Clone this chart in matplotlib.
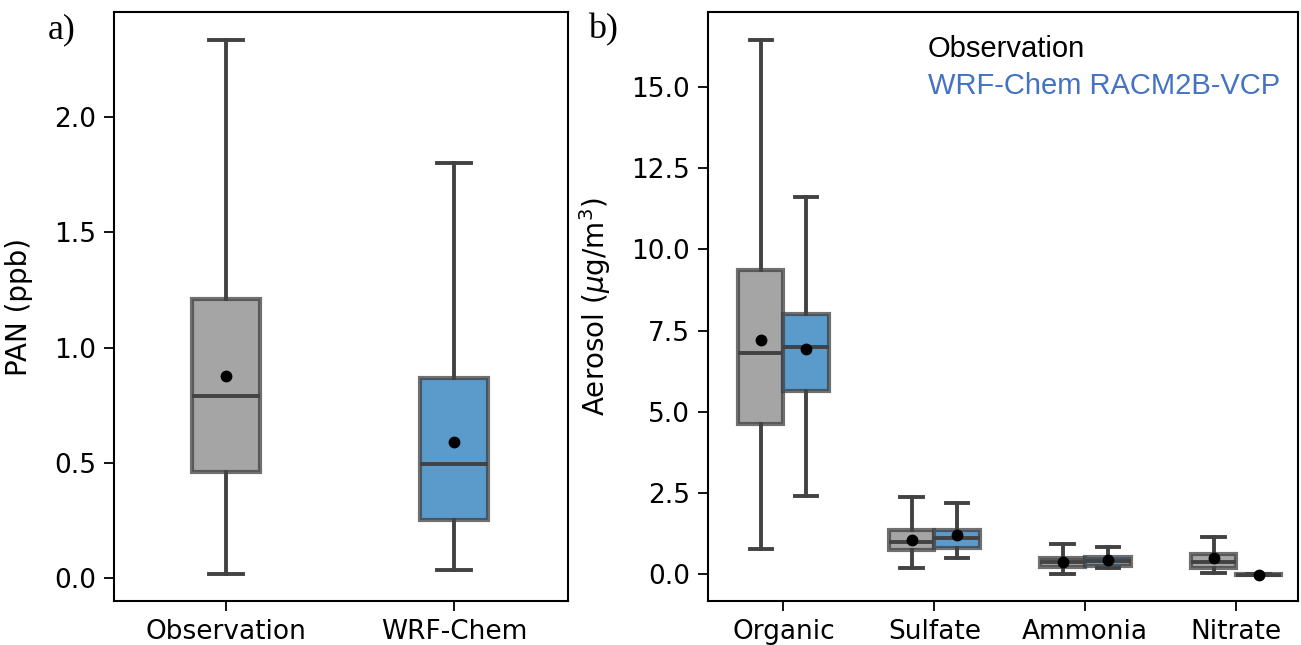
import matplotlib
matplotlib.use("Agg")
import matplotlib.pyplot as plt

# panel a: PAN (ppb)
pan_labels = ["Observation", "WRF-Chem"]
pan_whislo = [0.017, 0.035]
pan_q1 = [0.46, 0.25]
pan_med = [0.79, 0.495]
pan_q3 = [1.21, 0.868]
pan_whishi = [2.334, 1.80]
pan_mean = [0.876, 0.59]

# panel b: aerosol (ug/m3)
species = ["Organic", "Sulfate", "Ammonia", "Nitrate"]
obs_whislo = [0.77, 0.18, 0.00, 0.03]
obs_q1 = [4.62, 0.74, 0.22, 0.18]
obs_med = [6.81, 0.99, 0.37, 0.37]
obs_q3 = [9.36, 1.36, 0.49, 0.62]
obs_whishi = [16.45, 2.37, 0.92, 1.14]
obs_mean = [7.20, 1.05, 0.37, 0.49]

wrf_whislo = [2.40, 0.49, 0.18, -0.02]
wrf_q1 = [5.64, 0.80, 0.25, -0.02]
wrf_med = [6.99, 1.10, 0.40, -0.02]
wrf_q3 = [8.02, 1.36, 0.52, -0.01]
wrf_whishi = [11.61, 2.19, 0.83, -0.01]
wrf_mean = [6.93, 1.20, 0.43, -0.02]

gray = "#a5a5a5"
blue = "#5b9bcb"
edge = "#424242"


def stats(lo, q1, med, q3, hi, mean):
    return [dict(whislo=a, q1=b, med=c, q3=d, whishi=e, mean=f, fliers=[])
            for a, b, c, d, e, f in zip(lo, q1, med, q3, hi, mean)]


def draw(ax, st, pos, colors, width):
    bp = ax.bxp(st, positions=pos, widths=width, patch_artist=True, showmeans=True,
                boxprops=dict(edgecolor=(0.25, 0.25, 0.25, 0.75), linewidth=3),
                medianprops=dict(color=edge, linewidth=2.8),
                whiskerprops=dict(color=edge, linewidth=2.8),
                capprops=dict(color=edge, linewidth=2.8),
                meanprops=dict(marker="o", markerfacecolor="black", markeredgecolor="black",
                               markersize=7.5), manage_ticks=False)
    for box, c in zip(bp["boxes"], colors):
        box.set_facecolor(c)
    return bp


fig = plt.figure(figsize=(13.01, 6.45), dpi=100)
axa = fig.add_axes([0.0876, 0.0682, 0.349, 0.9132])
axb = fig.add_axes([0.5442, 0.0682, 0.4535, 0.9132])

# a)
draw(axa, stats(pan_whislo, pan_q1, pan_med, pan_q3, pan_whishi, pan_mean),
     [0, 1], [gray, blue], 0.3)
axa.set_xticks([0, 1])
axa.set_xticklabels(pan_labels)
axa.set_xlim(-0.49, 1.5)
axa.set_ylim(-0.1, 2.456)
axa.set_yticks([0.0, 0.5, 1.0, 1.5, 2.0])
axa.set_ylabel("PAN (ppb)", fontsize=20)
axa.yaxis.set_label_coords(-0.178, 0.5)

# b)
xs = list(range(len(species)))
draw(axb, stats(obs_whislo, obs_q1, obs_med, obs_q3, obs_whishi, obs_mean),
     [x - 0.15 for x in xs], [gray] * 4, 0.3)
draw(axb, stats(wrf_whislo, wrf_q1, wrf_med, wrf_q3, wrf_whishi, wrf_mean),
     [x + 0.15 for x in xs], [blue] * 4, 0.3)
axb.set_xticks(xs)
axb.set_xticklabels(species)
axb.set_xlim(-0.5, 3.41)
axb.set_ylim(-0.83, 17.31)
axb.set_yticks([0.0, 2.5, 5.0, 7.5, 10.0, 12.5, 15.0])
axb.set_ylabel("Aerosol ($\\mu$g/m$^3$)", fontsize=20)
axb.yaxis.set_label_coords(-0.161, 0.5)
axb.text(0.373, 0.923, "Observation", transform=axb.transAxes, fontsize=21,
         family="Liberation Sans", color="black")
axb.text(0.373, 0.861, "WRF-Chem RACM2B-VCP", transform=axb.transAxes, fontsize=21,
         family="Liberation Sans", color="#4472c4")

for ax in (axa, axb):
    ax.tick_params(labelsize=19, length=7, width=1.3, pad=6)
    for s in ax.spines.values():
        s.set_linewidth(1.5)

fig.text(48 / 1301, 1 - 30 / 645, "a)", fontsize=26, family="Liberation Serif", va="center")
fig.text(588 / 1301, 1 - 30 / 645, "b)", fontsize=26, family="Liberation Serif", va="center")

fig.savefig("out.png", dpi=100)
